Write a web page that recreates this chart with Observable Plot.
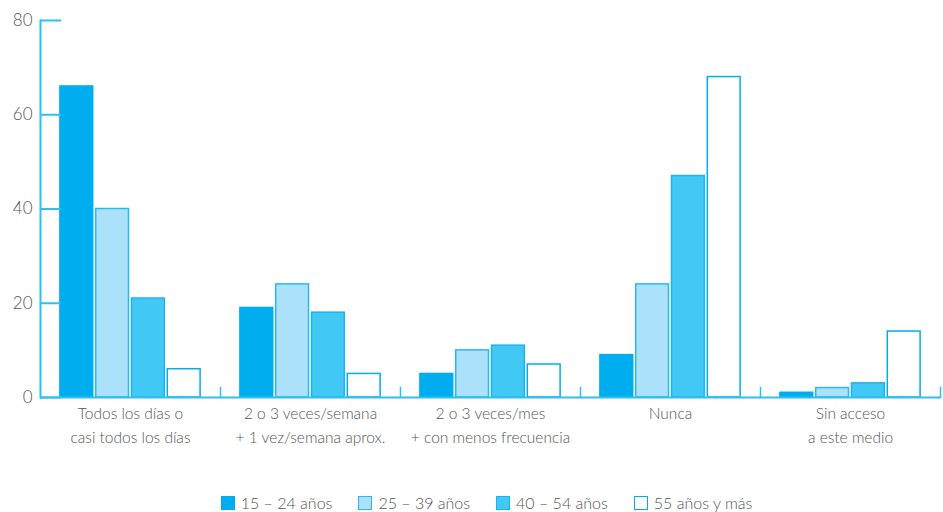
<!DOCTYPE html>
<html><head><meta charset="utf-8">
<script src="https://cdn.jsdelivr.net/npm/d3@7"></script>
<script src="https://cdn.jsdelivr.net/npm/@observablehq/plot@0.6"></script>
<style>
body{margin:0;background:#fff;font-family:Lato,"Noto Sans",sans-serif;}
#legend{display:flex;justify-content:center;gap:26px;margin-top:15px;line-height:20px;font-size:16px;color:#555;font-weight:300;padding-left:30px;}
#legend span.item{display:flex;align-items:center;}
#legend span.sw{display:inline-block;width:12px;height:12px;margin-right:6px;border:1.5px solid;}
</style></head>
<body>
<div id="chart"></div>
<div id="legend"></div>
<script>
const categories = ["Todos los días o\ncasi todos los días","2 o 3 veces/semana\n+ 1 vez/semana aprox.","2 o 3 veces/mes\n+ con menos frecuencia","Nunca","Sin acceso\na este medio"];
const ages = ["15 – 24 años","25 – 39 años","40 – 54 años","55 años y más"];
const v1524 = [66,19,5,9,1];
const v2539 = [40,24,10,24,2];
const v4054 = [21,18,11,47,3];
const v55 = [6,5,7,68,14];
const yTicks = [0,20,40,60,80];

const fills = ["#00aeef","#abe1fa","#42c8f4","#ffffff"];
const strokes = ["#00aeef","#2bb8ef","#1cb3ee","#00aeef"];
const axisColor = "#2ec0f2";

const series = [v1524,v2539,v4054,v55];
const data = [];
categories.forEach((c,i)=>ages.forEach((a,j)=>data.push({cat:c, age:a, value:series[j][i]})));
const strokeOf = Object.fromEntries(ages.map((a,i)=>[a,strokes[i]]));

const chart = Plot.plot({
  width:943, height:478,
  marginLeft:38, marginRight:1, marginTop:20, marginBottom:81,
  style:{fontFamily:'Lato,"Noto Sans",sans-serif', color:"#555", background:"#fff"},
  fx:{domain:categories, padding:0, label:null},
  x:{domain:ages, paddingInner:0, paddingOuter:0.514, round:false, axis:null},
  y:{domain:[0,80], axis:null, label:null},
  color:{domain:ages, range:fills},
  marks:[
    Plot.barY(data,{fx:"cat", x:"age", y:"value", fill:"age", stroke:d=>strokeOf[d.age], strokeWidth:1.5, insetLeft:1.5, insetRight:1.5}),
    Plot.frame({anchor:"right", insetTop:367, stroke:axisColor, strokeWidth:1.5}),
    Plot.frame({anchor:"left", facetAnchor:"left", stroke:axisColor, strokeWidth:2}),
    Plot.tickY(yTicks,{y:d=>d, facetAnchor:"left", insetRight:159, stroke:axisColor, strokeWidth:2}),
    Plot.ruleY([0],{stroke:axisColor, strokeWidth:2}),
    Plot.axisY({ticks:yTicks, tickSize:0, tickPadding:8, fontSize:17, fill:"#555", fontWeight:300, label:null}),
    Plot.axisFx({anchor:"bottom", tickSize:0, tickPadding:4, fontSize:15.5, lineHeight:1.55, fill:"#555", fontWeight:300, label:null})
  ]
});
document.getElementById("chart").appendChild(chart);

const lg = document.getElementById("legend");
ages.forEach((a,i)=>{
  const it = document.createElement("span"); it.className="item";
  const sw = document.createElement("span"); sw.className="sw";
  sw.style.background = fills[i]; sw.style.borderColor = strokes[i];
  it.appendChild(sw); it.appendChild(document.createTextNode(a));
  lg.appendChild(it);
});
</script>
</body></html>
